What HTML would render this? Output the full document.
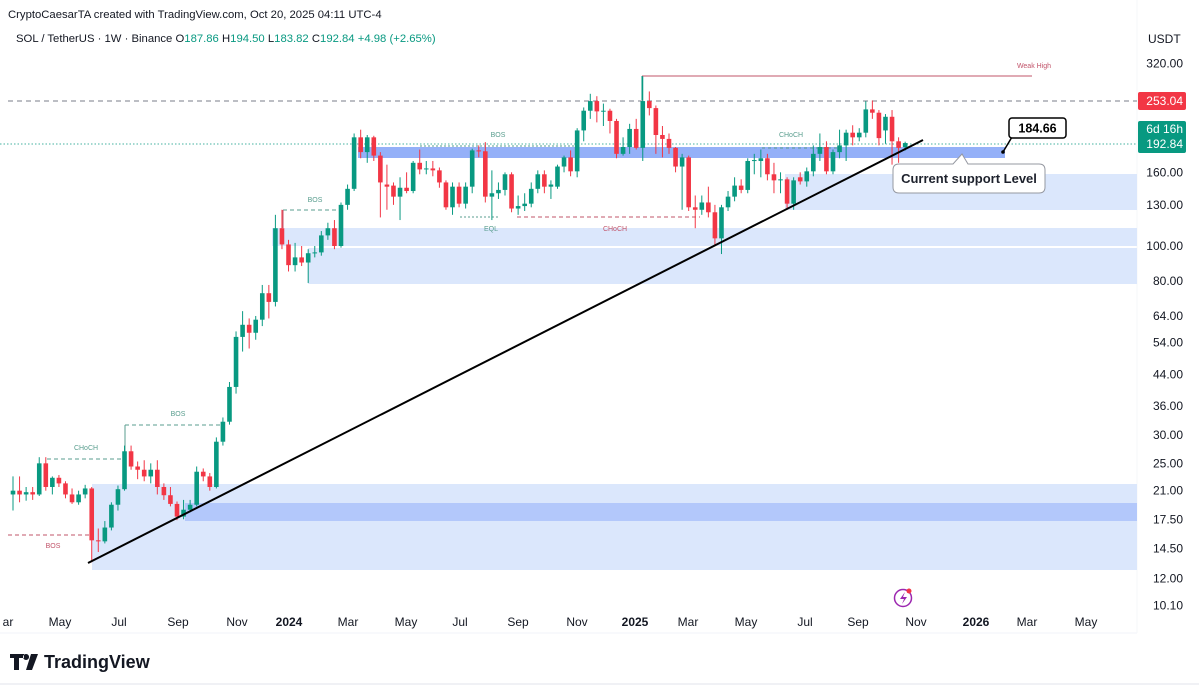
<!DOCTYPE html>
<html><head><meta charset="utf-8">
<style>
html,body{margin:0;padding:0;background:#fff;}
body{width:1199px;height:687px;overflow:hidden;position:relative;font-family:"Liberation Sans",sans-serif;color:#131722;}
svg{position:absolute;left:0;top:0;}
</style></head>
<body>
<svg id="chart" width="1199" height="687">
  <text x="8" y="18" font-size="11.3" fill="#131722">CryptoCaesarTA created with TradingView.com, Oct 20, 2025 04:11 UTC-4</text>
  <text x="16" y="42" font-size="11.3" fill="#131722">SOL / TetherUS · 1W · Binance  <tspan>O</tspan><tspan fill="#089981">187.86</tspan> <tspan>H</tspan><tspan fill="#089981">194.50</tspan> <tspan>L</tspan><tspan fill="#089981">183.82</tspan> <tspan>C</tspan><tspan fill="#089981">192.84</tspan> <tspan fill="#089981">+4.98 (+2.65%)</tspan></text>
  <text x="1148" y="43" font-size="12" fill="#131722">USDT</text>
  <line x1="0" y1="633" x2="1137" y2="633" stroke="#f0f3fa"/>
  <line x1="1137" y1="0" x2="1137" y2="633" stroke="#f6f7f9"/>
  <line x1="0" y1="684" x2="1199" y2="684" stroke="#e0e3eb"/>
  <defs><clipPath id="plot"><rect x="0" y="50" width="1137" height="560"/></clipPath></defs>
  <g id="zones" clip-path="url(#plot)"></g>
  <g id="lines" clip-path="url(#plot)"></g>
  <g id="candles" clip-path="url(#plot)"></g>
  <g id="annot"></g>
  <g id="yaxis"></g>
  <g id="xaxis"></g>
  <g>
    <path d="M10 654h14v4h-5v12h-5v-12h-4z M26 654a3 3 0 1 0 0.1 0z M31 654h7l-6 16h-6z" fill="#131722"/>
    <text x="44" y="668" font-size="18" font-weight="bold" fill="#131722">TradingView</text>
  </g>
  <g>
    <circle cx="903" cy="598" r="8.5" fill="none" stroke="#9c27b0" stroke-width="1.5"/>
    <path d="M905 592l-5 7h4l-2 5 5-7h-4z" fill="#9c27b0"/>
    <circle cx="909" cy="591" r="2.5" fill="#f23645"/>
  </g>
</svg>
<script>
// weekly OHLC from Mar 13 2023 to Oct 20 2025
const opens=[20.5,21,20.5,20.8,20.5,25,21.5,22.8,22,20.5,19.5,20.5,21.3,15.3,15.2,16.6,19.2,21.2,27,24.5,24,23,24,21.5,20.4,19.3,17.8,18.6,19.2,23.7,23,21.5,28.7,32.6,40.7,56,60.5,57.5,62.5,74,70,112,101,88.5,93,90,95.5,96,107,112,100,130,144,200,182,200,178,148,147,137,145,142,170,163,164,162,150,128,146,131,146,184,183,137,140,143,158,127,129,131,144,158,146,146,166,176,161,209,237,252,236,237,222,180,188,211,187,252,241,203,198,187,166,176,128,126,132,124,105,128,137,147,143,172,172,175,158,152,153,131,155,151,161,180,188,161,182,190,206,200,206,239,234,209,228,195,187.86];
const highs=[23,23,21.5,21.5,26,26,23,23.2,22.3,21.3,21,21.8,21.5,16.5,17.3,19.5,21.7,28,28,25.3,25.5,25,25.5,22,21.5,19.6,19.8,19.8,24.5,24.2,23.5,29.5,33.5,42,58,66,63,64,78,78,122,126,104,102,100,98,100,110,116,118,132,148,205,210,203,202,182,168,150,155,160,172,185,172,172,165,152,150,150,150,186,190,194,162,150,160,160,138,140,150,162,162,152,168,178,184,212,242,264,260,248,240,225,200,218,225,295,268,245,215,205,188,180,178,138,138,146,130,130,142,155,153,175,180,185,180,170,160,155,155,160,165,190,205,195,185,210,210,216,212,252,253,238,232,238,200,194.5];
const lows=[18.5,19.5,19.7,19.8,20.3,21,20.5,21.5,20,19.3,19.2,20,13.3,14.2,15,16.3,18.5,21,24,22.6,22.3,22,20.5,19.8,19,17.4,17.5,18.3,19,22.3,21,21.3,28,32,39,51,52,55,60,63,68,98,85,85,88,79,93,94,104,98,99,126,142,175,170,172,120,126,130,118,140,140,158,158,156,145,126,122,128,127,140,176,132,118,135,138,124,122,125,128,140,140,135,144,160,156,155,195,225,220,215,205,175,178,180,185,172,230,180,176,180,160,126,125,112,122,120,100,95,125,133,140,140,158,155,152,140,140,126,126,148,146,156,172,158,158,175,172,190,195,200,225,190,192,168,170,183.82];
const closes=[21,20.5,20.8,20.5,25,21.5,22.8,22,20.5,19.5,20.5,21.3,15.3,15.2,16.6,19.2,21.2,27,24.5,24,23,24,21.5,20.4,19.3,17.8,18.6,19.2,23.7,23,21.5,28.7,32.6,40.7,56,60.5,57.5,62.5,74,70,112,101,88.5,93,90,95.5,96,107,112,100,130,144,200,182,200,178,150,146,137,145,142,170,163,164,162,150,128,146,131,146,184,183,137,140,143,158,127,129,131,144,158,146,148,166,176,161,209,237,252,236,237,222,180,188,211,187,252,241,203,198,187,166,176,128,126,132,124,105,128,137,147,143,172,173,175,158,152,153,131,152,151,161,180,188,161,182,190,206,200,206,239,234,199,228,195,187,192.84];
const priceTicks=[320,160,130,100,80,64,54,44,36,30,25,21,17.5,14.5,12,10.1];
const monthLabels=["ar","May","Jul","Sep","Nov","2024","Mar","May","Jul","Sep","Nov","2025","Mar","May","Jul","Sep","Nov","2026","Mar","May"];
const monthX=[8,60,119,178,237,289,348,406,460,518,577,635,688,746,805,858,916,976,1027,1086];

const NS="http://www.w3.org/2000/svg";
function yScale(p){return 246-361*Math.log10(p/100);}
function xScale(i){return 13+i*6.56;}
function mk(tag,attrs,parent){const e=document.createElementNS(NS,tag);for(const k in attrs)e.setAttribute(k,attrs[k]);parent.appendChild(e);return e;}

const zones=document.getElementById('zones');
function zone(x1,y1,x2,y2,fill,name){const r=mk('rect',{x:x1,y:y1,width:x2-x1,height:y2-y1,fill:fill},zones);}
zone(92,484,1137,570,'#dbe7fc','demand-zone-low');
zone(185,503,1137,521,'#b3c8fb','demand-zone-low-core');
zone(272,228,1137,246,'#dbe7fc','demand-zone-mid-upper');
zone(308,248,1137,284,'#dbe7fc','demand-zone-mid-lower');
zone(785,174,1137,210,'#dbe7fc','demand-zone-high');
zone(358,147,1005,158,'#94b0f8','support-zone');

const lines=document.getElementById('lines');
function ln(x1,y1,x2,y2,st,dash,w,name){const l=mk('line',{x1:x1,y1:y1,x2:x2,y2:y2,stroke:st,'stroke-width':w||1},lines);if(dash)l.setAttribute('stroke-dasharray',dash);}
ln(8,101,1137,101,'#9598a1','5,4',1.2,'prev-high-line');
ln(0,144,1137,144,'#089981','1.5,2',0.8,'current-price-line');
ln(642,76,1032,76,'#c2546a',null,1,'weak-high-line');
ln(642,76,642,100,'#089981',null,1,'weak-high-stem');
ln(8,535,92,535,'#c2546a','4,3',1,'bos-line-low');
ln(47,459,125,459,'#5a9e8f','4,3',1,'choch-line-1');
ln(125,425,222,425,'#5a9e8f','4,3',1,'bos-line-1');
ln(125,425,125,452,'#5a9e8f',null,1,'bos-stem-1');
ln(283,210,340,210,'#5a9e8f','4,3',1,'bos-line-2');
ln(283,210,283,228,'#c2546a',null,1,'bos-stem-2');
ln(420,146,575,146,'#5a9e8f','2,2',1,'bos-line-3');
ln(460,217,500,217,'#5a9e8f','2,2',1,'eql-line');
ln(517,217,700,217,'#c2546a','4,3',1,'choch-line-red');
ln(762,148,840,148,'#5a9e8f','3,3',1,'choch-line-2');

const cg=document.getElementById('candles');
for(let i=0;i<closes.length;i++){
  const up=closes[i]>=opens[i];const col=up?'#089981':'#f23645';const x=xScale(i);
  const w=mk('line',{x1:x,x2:x,y1:yScale(highs[i]),y2:yScale(lows[i]),stroke:col,'stroke-width':1},cg);
  
  
  const t=yScale(Math.max(opens[i],closes[i])),b=yScale(Math.min(opens[i],closes[i]));
  const r=mk('rect',{x:x-2.3,y:t,width:4.6,height:Math.max(1,b-t),fill:col},cg);
  
  
}

const an=document.getElementById('annot');
const tl=mk('line',{x1:88,y1:563,x2:923,y2:140,stroke:'#000','stroke-width':2},an);


function lab(x,y,t,c,name,size){const e=mk('text',{x:x,y:y,'font-size':size||7,fill:c,'text-anchor':'middle'},an);e.textContent=t;}
lab(53,548,'BOS','#c2546a','bos-label-low');
lab(86,450,'CHoCH','#5a9e8f','choch-label-1');
lab(178,416,'BOS','#5a9e8f','bos-label-1');
lab(315,202,'BOS','#5a9e8f','bos-label-2');
lab(498,137,'BOS','#5a9e8f','bos-label-3');
lab(491,231,'EQL','#5a9e8f','eql-label');
lab(615,231,'CHoCH','#c2546a','choch-label-red');
lab(791,137,'CHoCH','#5a9e8f','choch-label-2');
lab(1034,68,'Weak High','#c2546a','weak-high-label');
const cp=mk('path',{d:'M1003 152 L1012 137',stroke:'#000','stroke-width':1.5,fill:'none'},an);


const cd=mk('circle',{cx:1003,cy:152,r:1.8,fill:'#000'},an);


const cb=mk('rect',{x:1009,y:118,width:57,height:20,rx:3,fill:'#fff',stroke:'#000','stroke-width':1.5},an);


const ct=mk('text',{x:1037.5,y:132.5,'font-size':12.5,'font-weight':'bold','text-anchor':'middle',fill:'#000'},an);ct.textContent='184.66';


const sb=mk('path',{d:'M899 164 H953 L962 154 L968 164 H1039 Q1045 164 1045 170 V187 Q1045 193 1039 193 H899 Q893 193 893 187 V170 Q893 164 899 164 Z',fill:'#fff',stroke:'#9598a1','stroke-width':1},an);


const st=mk('text',{x:969,y:183,'font-size':13,'font-weight':'bold','text-anchor':'middle',fill:'#1e222d'},an);st.textContent='Current support Level';



const ya=document.getElementById('yaxis');
for(const p of priceTicks){const t=mk('text',{x:1183,y:yScale(p)+4,'font-size':12,'text-anchor':'end',fill:'#131722'},ya);t.textContent=p.toFixed(2);}
const rb=mk('rect',{x:1138,y:92,width:48,height:18,rx:2,fill:'#f23645'},ya);


const rt=mk('text',{x:1183,y:105,'font-size':12,'text-anchor':'end',fill:'#fff'},ya);rt.textContent='253.04';


const gb=mk('rect',{x:1138,y:121,width:48,height:32,rx:2,fill:'#089981'},ya);


const g1=mk('text',{x:1183,y:133,'font-size':12,'text-anchor':'end',fill:'#fff'},ya);g1.textContent='6d 16h';


const g2=mk('text',{x:1183,y:148,'font-size':12,'text-anchor':'end',fill:'#fff'},ya);g2.textContent='192.84';



const xa=document.getElementById('xaxis');
for(let i=0;i<monthLabels.length;i++){const bold=/^20/.test(monthLabels[i]);const t=mk('text',{x:monthX[i],y:626,'font-size':12,'text-anchor':'middle',fill:'#131722','font-weight':bold?'bold':'normal'},xa);t.textContent=monthLabels[i];}
</script>
</body></html>
